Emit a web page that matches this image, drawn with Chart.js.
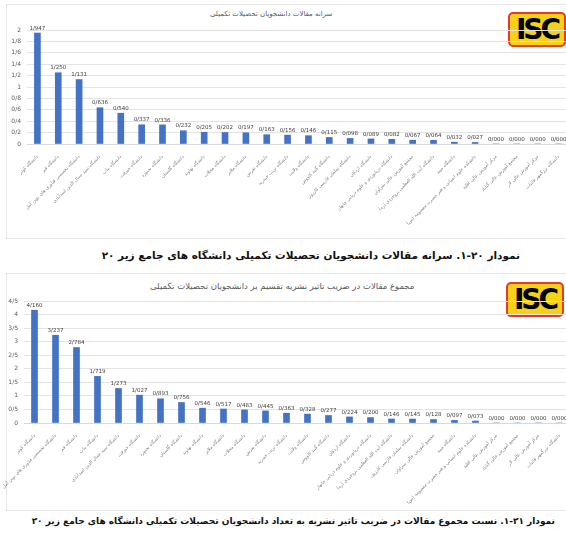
<!DOCTYPE html>
<html lang="fa">
<head>
<meta charset="utf-8">
<script src="https://cdn.jsdelivr.net/npm/chart.js@4/dist/chart.umd.min.js"></script>
<style>
    html, body { margin: 0; padding: 0; background: #fff; }
    body { width: 566px; height: 535px; position: relative; overflow: hidden; font-family: "DejaVu Sans", sans-serif; }
    .panel { position: absolute; border: 1px solid #e6e6e6; }
    .chartBox { position: absolute; left: 0; width: 574px; }
    .title { position: absolute; color: #595959; white-space: nowrap; direction: rtl; }
    .caption { position: absolute; font-weight: bold; color: #111; white-space: nowrap; direction: rtl; }
    .isc {
        position: absolute; width: 54px; height: 31px; background: #f7d117;
        border: 2px solid #e23a2c; border-radius: 5px; text-align: center;
        font: bold 28px/31px "DejaVu Sans", sans-serif; color: #000; letter-spacing: -3px;
    }
</style>
</head>
<body>
<div class="panel" style="left:6px; top:4px; width:570px; height:233px;"></div>
<div class="panel" style="left:6px; top:273px; width:570px; height:236px;"></div>

<div class="title" style="top:10px; left:210px; font-size:7px;">سرانه مقالات دانشجویان تحصیلات تکمیلی</div>
<div class="title" style="top:281px; left:150px; font-size:8.5px;">مجموع مقالات در ضریب تاثیر نشریه تقسیم بر دانشجویان تحصیلات تکمیلی</div>

<div class="isc" style="left:508px; top:12px;">ISC</div>
<div class="isc" style="left:506px; top:282px;">ISC</div>

<div class="chartBox" style="top:20px; height:220px;"><canvas id="chartPerStudent"></canvas></div>
<div class="chartBox" style="top:290px; height:220px;"><canvas id="chartImpact"></canvas></div>

<div class="caption" style="top:249px; right:46px; font-size:10.5px;">نمودار ۲۰-۱. سرانه مقالات دانشجویان تحصیلات تکمیلی دانشگاه های جامع زیر ۲۰</div>
<div class="caption" style="top:516px; right:11px; font-size:9px;">نمودار ۲۱-۱. نسبت مجموع مقالات در ضریب تاثیر نشریه به تعداد دانشجویان تحصیلات تکمیلی دانشگاه های جامع زیر ۲۰</div>

<script>
// chart 20-1: articles per graduate student
const perStudentLabels = [
    'دانشگاه کوثر', 'دانشگاه قم', 'دانشگاه تخصصی فناوری های نوین آمل', 'دانشگاه سید جمال الدین اسدآبادی',
    'دانشگاه بناب', 'دانشگاه جیرفت', 'دانشگاه بجنورد', 'دانشگاه گلستان', 'دانشگاه نهاوند', 'دانشگاه محلات',
    'دانشگاه ملایر', 'دانشگاه تفرش', 'دانشگاه تربت حیدریه', 'دانشگاه ولایت', 'دانشگاه گنبد کاووس',
    'دانشگاه سلمان فارسی کازرون', 'دانشگاه اردکان', 'دانشگاه دریانوردی و علوم دریایی چابهار',
    'مجتمع آموزش عالی سراوان', 'دانشگاه آیت الله العظمی بروجردی (ره)', 'دانشگاه میبد',
    'دانشکده علوم انسانی و هنر حضرت معصومه (س)', 'مرکز آموزش عالی اقلید', 'مجتمع آموزش عالی گناباد',
    'مرکز آموزش عالی لار', 'دانشگاه بزرگمهر قائنات'
];
const perStudentValues = [
    1.947, 1.250, 1.131, 0.636, 0.540, 0.337, 0.336, 0.232, 0.205, 0.202, 0.197, 0.163, 0.156,
    0.146, 0.115, 0.098, 0.089, 0.082, 0.067, 0.064, 0.032, 0.027, 0, 0, 0, 0
];
const perStudentTicks = [0, 0.2, 0.4, 0.6, 0.8, 1, 1.2, 1.4, 1.6, 1.8, 2];

// chart 21-1: impact-weighted articles per graduate student
const impactLabels = [
    'دانشگاه کوثر', 'دانشگاه تخصصی فناوری های نوین آمل', 'دانشگاه قم', 'دانشگاه بناب',
    'دانشگاه سید جمال الدین اسدآبادی', 'دانشگاه جیرفت', 'دانشگاه بجنورد', 'دانشگاه گلستان',
    'دانشگاه نهاوند', 'دانشگاه ملایر', 'دانشگاه محلات', 'دانشگاه تفرش', 'دانشگاه تربت حیدریه',
    'دانشگاه ولایت', 'دانشگاه گنبد کاووس', 'دانشگاه اردکان', 'دانشگاه دریانوردی و علوم دریایی چابهار',
    'دانشگاه آیت الله العظمی بروجردی (ره)', 'دانشگاه سلمان فارسی کازرون', 'مجتمع آموزش عالی سراوان',
    'دانشگاه میبد', 'دانشکده علوم انسانی و هنر حضرت معصومه (س)', 'مرکز آموزش عالی اقلید',
    'مجتمع آموزش عالی گناباد', 'مرکز آموزش عالی لار', 'دانشگاه بزرگمهر قائنات'
];
const impactValues = [
    4.160, 3.237, 2.784, 1.719, 1.273, 1.027, 0.893, 0.756, 0.546, 0.517, 0.483, 0.445, 0.363,
    0.328, 0.277, 0.224, 0.200, 0.146, 0.145, 0.128, 0.097, 0.073, 0, 0, 0, 0
];
const impactTicks = [0, 0.5, 1, 1.5, 2, 2.5, 3, 3.5, 4, 4.5];

const FONT = '"DejaVu Sans", sans-serif';

function persianDecimal(v, digits) {
    return v.toFixed(digits).replace('.', '/');
}

function tickText(v) {
    const r = Math.round(v * 10) / 10;
    return Number.isInteger(r) ? String(r) : persianDecimal(r, 1);
}

// value labels over each bar
const valueLabels = {
    id: 'valueLabels',
    afterDatasetsDraw(chart) {
        const ctx = chart.ctx;
        const values = chart.data.datasets[0].data;
        ctx.save();
        ctx.font = '5.5px ' + FONT;
        ctx.fillStyle = '#404040';
        ctx.textAlign = 'center';
        ctx.textBaseline = 'bottom';
        chart.getDatasetMeta(0).data.forEach(function (bar, i) {
            ctx.fillText(persianDecimal(values[i], 3), bar.x, bar.y - 2);
        });
        ctx.restore();
    }
};

function makeChart(id, labels, values, ticks, opts) {
    return new Chart(document.getElementById(id), {
        type: 'bar',
        data: {
            labels: labels,
            datasets: [{
                data: values,
                backgroundColor: '#4472c4',
                barThickness: 6
            }]
        },
        options: {
            responsive: true,
            maintainAspectRatio: false,
            animation: false,
            layout: { padding: { top: opts.padTop, right: opts.padRight, bottom: 0, left: 0 } },
            plugins: { legend: { display: false }, tooltip: { enabled: false } },
            scales: {
                x: {
                    grid: { display: false },
                    border: { color: '#d9d9d9' },
                    ticks: {
                        autoSkip: false, maxRotation: 45, minRotation: 45, padding: 2,
                        color: '#7f7f7f', font: { family: FONT, size: 4.6 }
                    },
                    afterFit: function (axis) { axis.height = opts.xHeight; }
                },
                y: {
                    min: 0,
                    max: ticks[ticks.length - 1],
                    afterBuildTicks: function (axis) {
                        axis.ticks = ticks.map(function (t) { return { value: t }; });
                    },
                    grid: { color: '#e3e3e3', drawTicks: false },
                    border: { display: false },
                    ticks: {
                        padding: 6, color: '#595959', font: { family: FONT, size: 6 },
                        callback: tickText
                    },
                    afterFit: function (axis) { axis.width = opts.yWidth; }
                }
            }
        },
        plugins: [valueLabels]
    });
}

makeChart('chartPerStudent', perStudentLabels, perStudentValues, perStudentTicks,
    { padTop: 10, padRight: 5, xHeight: 96, yWidth: 27 });
makeChart('chartImpact', impactLabels, impactValues, impactTicks,
    { padTop: 11, padRight: 4, xHeight: 87, yWidth: 24 });
</script>
</body>
</html>
